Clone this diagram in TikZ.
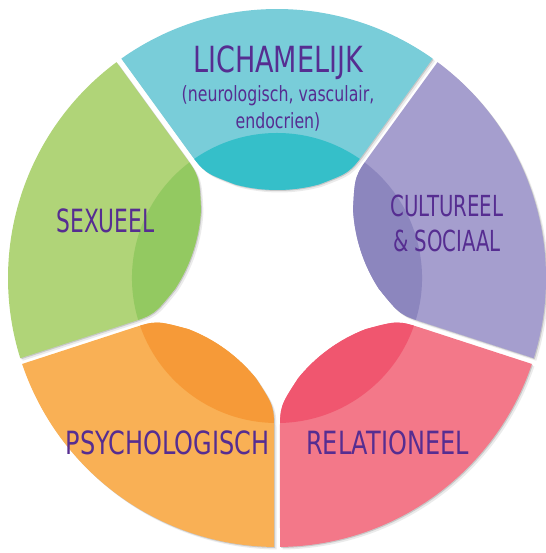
\documentclass[tikz,border=0pt]{standalone}
\usepackage{fontspec}
\setmainfont{DejaVu Sans}[FakeStretch=0.75]
\newfontfamily\tightfont{DejaVu Sans}[FakeStretch=0.68]
\usepackage{xcolor}
\usepackage{tikz}

\definecolor{lichlight}{RGB}{121,205,217}
\definecolor{lichdark}{RGB}{53,191,201}
\definecolor{sexlight}{RGB}{176,212,120}
\definecolor{sexdark}{RGB}{147,201,97}
\definecolor{psychlight}{RGB}{249,176,85}
\definecolor{psychdark}{RGB}{246,154,56}
\definecolor{rellight}{RGB}{243,120,137}
\definecolor{reldark}{RGB}{240,86,111}
\definecolor{cultlight}{RGB}{165,158,206}
\definecolor{cultdark}{RGB}{140,134,190}
\definecolor{areaink}{RGB}{86,45,145}

\newcommand{\petalpath}{(125.36:269) -- (-89.4,128.05) .. controls (-72.9,105.4) .. (-41.7,93.5) arc[start angle=255, end angle=285, radius=161.2] .. controls (72.9,105.4) .. (89.4,128.05) -- (54.64:269) arc[start angle=54.64, end angle=125.36, radius=269] -- cycle}

\begin{document}
\begin{tikzpicture}[x=1pt, y=1pt,
  areatext/.style={text=areaink, inner sep=0pt, anchor=base}]
\useasboundingbox (0,0) rectangle (545,553);
\coordinate (mid) at (277,275);

% soft shadow behind the five areas
\foreach \turn in {0,72,144,216,288}{
  \begin{scope}[shift={(279.5,272.5)}, rotate=\turn]
    \fill[black, opacity=0.08] \petalpath;
  \end{scope}
  \begin{scope}[shift={(278,274)}, rotate=\turn]
    \fill[black, opacity=0.15] \petalpath;
  \end{scope}
}

% the five areas, darker towards the middle
\foreach \turn/\light/\dark in {0/lichlight/lichdark, 72/sexlight/sexdark, 144/psychlight/psychdark, 216/rellight/reldark, 288/cultlight/cultdark}{
  \begin{scope}[shift={(mid)}, rotate=\turn]
    \fill[\light] \petalpath;
    \clip \petalpath;
    \fill[\dark] (0,0) circle[radius=145];
  \end{scope}
}

\node (lich) [areatext, font=\fontsize{36}{40}\selectfont] at (278,480) {LICHAMELIJK};
\node (lichsub) [areatext, anchor=north, align=center, font=\fontsize{21}{27}\selectfont] at (278,468) {(neurologisch, vasculair,\\endocrien)};
\node (sex) [areatext, font=\tightfont\fontsize{32}{36}\selectfont] at (105.5,320) {SEXUEEL};
\node (cult) [areatext, anchor=north, align=center, font=\tightfont\fontsize{29}{35}\selectfont] at (447,358) {CULTUREEL\\\& SOCIAAL};
\node (psych) [areatext, font=\fontsize{32}{36}\selectfont] at (167.5,98) {PSYCHOLOGISCH};
\node (rel) [areatext, font=\fontsize{32}{36}\selectfont] at (387.5,98) {RELATIONEEL};

\end{tikzpicture}
\end{document}
